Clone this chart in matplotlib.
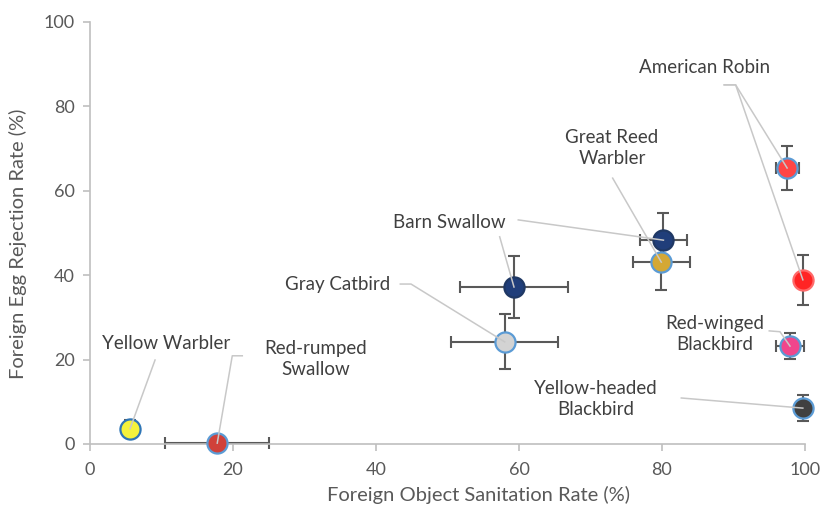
import matplotlib.pyplot as plt

plt.rcParams['font.family'] = ['Lato', 'DejaVu Sans']

# one entry per plotted point
species = ["Yellow Warbler", "Red-rumped Swallow", "Gray Catbird", "Barn Swallow",
           "Great Reed Warbler", "Great Reed Warbler", "American Robin", "American Robin",
           "Red-winged Blackbird", "Yellow-headed Blackbird"]
sanitation = [5.6, 17.8, 58.0, 59.3, 80.2, 79.9, 97.5, 99.7, 97.9, 99.7]
rejection = [3.6, 0.2, 24.2, 37.2, 48.3, 43.1, 65.4, 38.9, 23.2, 8.5]
sanitation_err = [0.0, 7.3, 7.5, 7.5, 3.3, 4.0, 1.6, 0.0, 2.0, 0.0]
rejection_err = [2.0, 0.0, 6.5, 7.3, 6.4, 6.5, 5.3, 6.0, 3.0, 3.0]

face_colors = ["#F4F23C", "#D0413A", "#D3D3D3", "#203E7A", "#203E7A", "#D4A835",
               "#FF4545", "#FF2424", "#F0468C", "#404040"]
edge_colors = ["#2E75B6", "#5B9BD5", "#5B9BD5", "#1F3864", "#1F3864", "#5B9BD5",
               "#5B9BD5", "#FF6A6A", "#5B9BD5", "#5B9BD5"]

# label text, text centre, leader start/elbow, indices of points it points to
labels = [
    ("American Robin", (86.0, 89.1), [(88.7, 85.1), (90.3, 85.1)], [6, 7]),
    ("Great Reed\nWarbler", (73.0, 70.2), [(73.1, 63.0)], [5]),
    ("Barn Swallow", (50.3, 52.6), [(59.9, 53.1)], [4]),
    ("", None, [(57.3, 49.1)], [3]),
    ("Gray Catbird", (34.6, 37.7), [(43.4, 37.9), (44.9, 37.9)], [2]),
    ("Yellow Warbler", (10.6, 23.7), [(9.1, 19.9)], [0]),
    ("Red-rumped\nSwallow", (31.5, 20.2), [(21.3, 20.9), (19.9, 20.9)], [1]),
    ("Red-winged\nBlackbird", (87.4, 26.0), [(95.0, 26.8), (96.5, 26.6)], [8]),
    ("Yellow-headed\nBlackbird", (70.8, 10.7), [(82.7, 10.9)], [9]),
]

fig = plt.figure(figsize=(8.27, 5.15), dpi=100)
ax = fig.add_axes([0.1088, 0.1379, 0.8646, 0.8194])

for i in range(len(species)):
    ax.errorbar(sanitation[i], rejection[i],
                xerr=sanitation_err[i] or None, yerr=rejection_err[i] or None,
                fmt="none", ecolor="#595959", elinewidth=1.5, capsize=4.5,
                capthick=1.5, zorder=2, clip_on=False)
    ax.plot(sanitation[i], rejection[i], "o", ms=14.5, mfc=face_colors[i],
            mec=edge_colors[i], mew=1.6, zorder=3, clip_on=False)

for text, pos, path, targets in labels:
    if text:
        ax.text(pos[0], pos[1], text, ha="center", va="center", fontsize=13.5,
                color="#404040", linespacing=1.3, zorder=5)
    for t in targets:
        xs = [p[0] for p in path] + [sanitation[t]]
        ys = [p[1] for p in path] + [rejection[t]]
        ax.plot(xs, ys, color="#C8C8C8", lw=1.1, zorder=4, clip_on=False)

ax.set_xlim(0, 100)
ax.set_ylim(0, 100)
ax.set_xticks(range(0, 101, 20))
ax.set_yticks(range(0, 101, 20))
for side in ["top", "right"]:
    ax.spines[side].set_visible(False)
for side in ["left", "bottom"]:
    ax.spines[side].set_color("#BFBFBF")
    ax.spines[side].set_linewidth(1.2)
ax.tick_params(colors="#BFBFBF", labelcolor="#595959", labelsize=13,
               length=5, width=1.2)
ax.tick_params(axis="x", pad=8)
ax.tick_params(axis="y", pad=6)
ax.set_xlabel("Foreign Object Sanitation Rate (%)", fontsize=14.5,
              color="#595959")
ax.set_ylabel("Foreign Egg Rejection Rate (%)", fontsize=14.5,
              color="#595959")
ax.xaxis.set_label_coords(0.543, -0.1)
ax.yaxis.set_label_coords(-0.088, 0.474)

fig.savefig("out.png", dpi=100)
